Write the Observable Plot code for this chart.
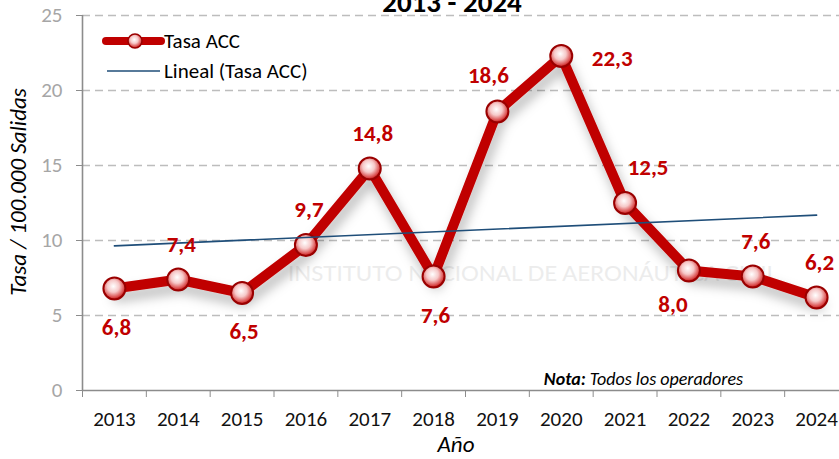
<!DOCTYPE html>
<html>
<head>
<meta charset="utf-8">
<script src="https://cdn.jsdelivr.net/npm/d3@7"></script>
<script src="https://cdn.jsdelivr.net/npm/@observablehq/plot@0.6"></script>
<style>
  html, body { margin: 0; padding: 0; background: #fff; }
  #chart svg { display: block; }
</style>
</head>
<body>
<div id="chart"></div>
<script>
// ---- data ----
const years = [2013, 2014, 2015, 2016, 2017, 2018, 2019, 2020, 2021, 2022, 2023, 2024];
const tasaACC = [6.8, 7.4, 6.5, 9.7, 14.8, 7.6, 18.6, 22.3, 12.5, 8.0, 7.6, 6.2];
const yTicks = [0, 5, 10, 15, 20, 25];
const titleText = "2013 - 2024";
const yTitle = "Tasa / 100.000 Salidas";
const xTitle = "Año";
const seriesName = "Tasa ACC";
const trendName = "Lineal (Tasa ACC)";

const data = years.map((year, i) => ({ year, value: tasaACC[i], label: tasaACC[i].toFixed(1).replace(".", ",") }));
const boundaries = d3.range(years[0] - 0.5, years[years.length - 1] + 0.5, 1);

const FONT = "Carlito, Lato, 'Open Sans', sans-serif";
const RED = "#c00000";

function labels(sel, dx, dy) {
  return Plot.text(data.filter(d => sel.includes(d.year)), {
    x: "year", y: "value", text: "label", dx, dy,
    fill: RED, fontSize: 23, fontWeight: "bold", fontFamily: FONT
  });
}

const chart = Plot.plot({
  width: 839,
  height: 459,
  marginTop: 15,
  marginBottom: 69,
  marginLeft: 82,
  marginRight: 0,
  style: { fontFamily: FONT, background: "white", overflow: "visible" },
  x: { type: "linear", domain: [2012.5, 2024.5], range: [82, 848], axis: null },
  y: { domain: [0, 25], range: [390, 15], axis: null },
  marks: [
    Plot.gridY(yTicks.slice(1), { stroke: "#bdbdbd", strokeOpacity: 1, strokeWidth: 1.4, strokeDasharray: "8,5" }),
    Plot.axisY(yTicks, { tickSize: 6, tickPadding: 14, fontSize: 21, stroke: "#8c8c8c", fill: "#a6a6a6", label: null, tickFormat: d => d }),
    Plot.axisX(boundaries, { tickSize: 7, stroke: "#8c8c8c", tickFormat: () => "", label: null }),
    Plot.axisX(years, { tickSize: 0, tickPadding: 21, fontSize: 21, fill: "#111", tickFormat: d => String(d), label: null }),
    Plot.ruleX([2012.5], { stroke: "#8c8c8c", strokeWidth: 1.6 }),
    Plot.ruleY([0], { stroke: "#8c8c8c", strokeWidth: 1.6 }),
    Plot.line(data, { x: "year", y: "value", stroke: RED, strokeWidth: 10, strokeLinejoin: "round" }),
    Plot.dot(data, { x: "year", y: "value", r: 11, fill: "url(#ball)", stroke: "#9a0000", strokeWidth: 2 }),
    Plot.linearRegressionY(data, { x: "year", y: "value", stroke: "#1f4e79", strokeWidth: 1.6, ci: 0 }),
    labels([2014, 2016, 2017, 2023, 2024], 3, -35),
    labels([2019], -9, -36),
    labels([2021], 23, -35),
    labels([2013, 2015, 2018], 2, 39),
    labels([2022], -16, 34),
    labels([2020], 51, 3)
  ]
});

document.getElementById("chart").appendChild(chart);

const svg = d3.select(chart);
const defs = svg.insert("defs", ":first-child");
const grad = defs.append("radialGradient").attr("id", "ball").attr("cx", "45%").attr("cy", "40%").attr("r", "60%");
grad.append("stop").attr("offset", "0%").attr("stop-color", "#ffffff");
grad.append("stop").attr("offset", "45%").attr("stop-color", "#f6c9c9");
grad.append("stop").attr("offset", "85%").attr("stop-color", "#d94848");
grad.append("stop").attr("offset", "100%").attr("stop-color", "#b00000");
const sh = defs.append("filter").attr("id", "shadow").attr("x", "-20%").attr("y", "-20%").attr("width", "140%").attr("height", "160%");
sh.append("feDropShadow").attr("dx", 3).attr("dy", 8).attr("stdDeviation", 6).attr("flood-color", "#000").attr("flood-opacity", 0.28);

svg.selectAll("g[aria-label='line']").attr("filter", "url(#shadow)");

// faint watermark line behind the marks
const wm = svg.insert("g", "g[aria-label='line']").attr("pointer-events", "none").attr("text-anchor", "start");
wm.append("text").attr("x", 288).attr("y", 281).attr("font-family", "Lato, sans-serif").attr("font-size", 22)
  .attr("fill", "#ececec").attr("textLength", 490).attr("lengthAdjust", "spacingAndGlyphs").text("INSTITUTO NACIONAL DE AERONÁUTICA CIVIL");

// title (partly cut off at top like the reference)
svg.append("text").attr("x", 452).attr("y", 12).attr("text-anchor", "middle")
  .attr("font-family", FONT).attr("font-size", 29).attr("font-weight", "bold").attr("fill", "#000").text(titleText);

// axis titles
svg.append("text").attr("transform", "translate(26,192) rotate(-90)").attr("text-anchor", "middle")
  .attr("font-family", FONT).attr("font-size", 23).attr("font-style", "italic").attr("fill", "#000").text(yTitle);
svg.append("text").attr("x", 456).attr("y", 452).attr("text-anchor", "middle")
  .attr("font-family", FONT).attr("font-size", 23).attr("font-style", "italic").attr("fill", "#000").text(xTitle);

// note
const note = svg.append("text").attr("x", 743).attr("y", 385).attr("text-anchor", "end")
  .attr("font-family", FONT).attr("font-size", 18).attr("font-style", "italic").attr("fill", "#000");
note.append("tspan").attr("font-weight", "bold").text("Nota:");
note.append("tspan").text(" Todos los operadores");

// legend
const lg = svg.append("g").attr("text-anchor", "start");
lg.append("line").attr("x1", 106).attr("x2", 161).attr("y1", 41).attr("y2", 41)
  .attr("stroke", RED).attr("stroke-width", 8).attr("stroke-linecap", "round");
lg.append("circle").attr("cx", 135).attr("cy", 41).attr("r", 7).attr("fill", "url(#ball)").attr("stroke", "#9a0000").attr("stroke-width", 1.5);
lg.append("text").attr("x", 164).attr("y", 48).attr("font-family", FONT).attr("font-size", 21).attr("fill", "#000").text(seriesName);
lg.append("line").attr("x1", 107).attr("x2", 160).attr("y1", 71).attr("y2", 71)
  .attr("stroke", "#1f4e79").attr("stroke-width", 1.6);
lg.append("text").attr("x", 164).attr("y", 78).attr("font-family", FONT).attr("font-size", 21).attr("fill", "#000").text(trendName);
</script>
</body>
</html>
